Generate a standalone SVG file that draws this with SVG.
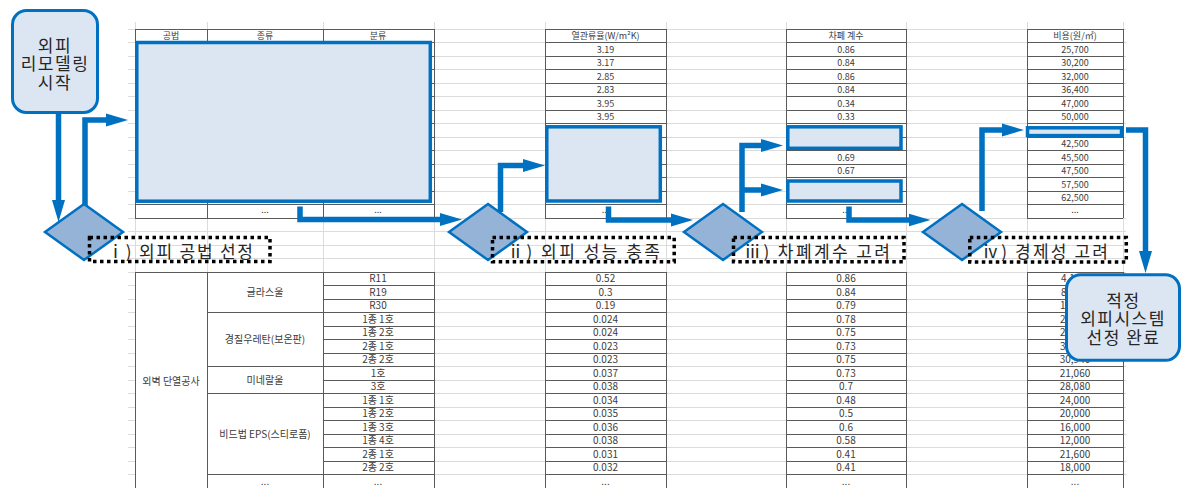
<svg xmlns="http://www.w3.org/2000/svg" width="1183" height="488" viewBox="0 0 1183 488">
  <style>
    .grid{stroke:#dcdcdc;stroke-width:1;fill:none;shape-rendering:crispEdges}
    .cell{stroke:#5a5a5a;stroke-width:1;fill:none;shape-rendering:crispEdges}
    .bg{fill:#ffffff}
    .t9{font-family:"Noto Sans CJK KR","Noto Sans",sans-serif;font-size:9px;fill:#3c3c3c;text-anchor:middle}
    .t10{font-family:"Noto Sans CJK KR","Noto Sans",sans-serif;font-size:10px;fill:#3c3c3c;text-anchor:middle}
    .frag{text-anchor:start}
    .hl{fill:#dce6f2;stroke:#0070c0;stroke-width:3.5}
    .conn{fill:none;stroke:#0070c0;stroke-width:5.5;stroke-linejoin:miter}
    .dia{fill:#95b3d7;stroke:#0070c0;stroke-width:2.5;stroke-linejoin:miter}
    .lblbox{fill:none;stroke:#000000;stroke-width:3.5;stroke-dasharray:3.5 3.5}
    .lbl{font-family:"Noto Sans CJK KR","Noto Sans",sans-serif;font-size:17px;fill:#262626}
    .term{fill:#dce6f2;stroke:#0070c0;stroke-width:3}
    .termtxt{font-family:"Noto Sans CJK KR","Noto Sans",sans-serif;font-size:17px;fill:#262626;text-anchor:middle;letter-spacing:1.5px}
  </style>
  <defs>
    <marker id="ah" markerUnits="userSpaceOnUse" viewBox="0 0 22 14" markerWidth="22" markerHeight="14" refX="2" refY="7" orient="auto">
      <path d="M0 0.5L22 7L0 13.5z" fill="#0070c0"/>
    </marker>
    <!-- one spreadsheet gridline -->
    <path id="gl" d="M128 0H1126"/>
    <!-- row borders of the upper sheet (all four blocks) -->
    <path id="rowTop" d="M135 0H434M545 0H666M786 0H906M1027 0H1123"/>
    <!-- row borders of the lower sheet (value columns only) -->
    <path id="rowBot" d="M323 0H434M545 0H666M786 0H906M1027 0H1123"/>
  </defs>

  <!-- spreadsheet gridlines -->
  <g id="gridlines" class="grid">
    <use href="#gl" y="29"/><use href="#gl" y="42.5"/><use href="#gl" y="56"/><use href="#gl" y="69.5"/>
    <use href="#gl" y="83"/><use href="#gl" y="96.5"/><use href="#gl" y="110"/><use href="#gl" y="123.5"/>
    <use href="#gl" y="137"/><use href="#gl" y="150.5"/><use href="#gl" y="164"/><use href="#gl" y="177.5"/>
    <use href="#gl" y="191"/><use href="#gl" y="204.5"/><use href="#gl" y="218"/><use href="#gl" y="231.5"/>
    <use href="#gl" y="245"/><use href="#gl" y="258.5"/><use href="#gl" y="272"/><use href="#gl" y="285.5"/>
    <use href="#gl" y="299"/><use href="#gl" y="312.5"/><use href="#gl" y="326"/><use href="#gl" y="339.5"/>
    <use href="#gl" y="353"/><use href="#gl" y="366.5"/><use href="#gl" y="380"/><use href="#gl" y="393.5"/>
    <use href="#gl" y="407"/><use href="#gl" y="420.5"/><use href="#gl" y="434"/><use href="#gl" y="447.5"/>
    <use href="#gl" y="461"/><use href="#gl" y="474.5"/>
    <path d="M135 22V488M207 22V488M323 22V488M434 22V488M545 22V488M666 22V488M786 22V488M906 22V488M1027 22V488M1123 22V488"/>
  </g>

  <!-- upper sheet: method list and performance columns -->
  <g id="sheet-top">
    <rect class="bg" x="135" y="29" width="299" height="189"/>
    <rect class="bg" x="545" y="29" width="121" height="189"/>
    <rect class="bg" x="786" y="29" width="120" height="189"/>
    <rect class="bg" x="1027" y="29" width="96" height="189"/>
    <g class="cell">
      <use href="#rowTop" y="29"/><use href="#rowTop" y="42.5"/><use href="#rowTop" y="56"/><use href="#rowTop" y="69.5"/>
      <use href="#rowTop" y="83"/><use href="#rowTop" y="96.5"/><use href="#rowTop" y="110"/><use href="#rowTop" y="123.5"/>
      <use href="#rowTop" y="137"/><use href="#rowTop" y="150.5"/><use href="#rowTop" y="164"/><use href="#rowTop" y="177.5"/>
      <use href="#rowTop" y="191"/><use href="#rowTop" y="204.5"/><use href="#rowTop" y="218"/>
      <path d="M135 29V218M207 29V218M323 29V218M434 29V218M545 29V218M666 29V218M786 29V218M906 29V218M1027 29V218M1123 29V218"/>
    </g>
    <g class="t9">
      <text x="171" y="39">공법</text>
      <text x="265" y="39">종류</text>
      <text x="378" y="39">분류</text>
      <text x="265" y="213">...</text>
      <text x="378" y="213">...</text>

      <text x="605.5" y="39">열관류율(W/m²K)</text>
      <text x="605.5" y="52.5">3.19</text>
      <text x="605.5" y="66">3.17</text>
      <text x="605.5" y="79.5">2.85</text>
      <text x="605.5" y="93">2.83</text>
      <text x="605.5" y="106.5">3.95</text>
      <text x="605.5" y="120">3.95</text>
      <text x="605.5" y="213">...</text>

      <text x="846" y="39">차폐 계수</text>
      <text x="846" y="52.5">0.86</text>
      <text x="846" y="66">0.84</text>
      <text x="846" y="79.5">0.86</text>
      <text x="846" y="93">0.84</text>
      <text x="846" y="106.5">0.34</text>
      <text x="846" y="120">0.33</text>
      <text x="846" y="160.5">0.69</text>
      <text x="846" y="174">0.67</text>
      <text x="846" y="213">...</text>

      <text x="1075" y="39">비용(원/㎡)</text>
      <text x="1075" y="52.5">25,700</text>
      <text x="1075" y="66">30,200</text>
      <text x="1075" y="79.5">32,000</text>
      <text x="1075" y="93">36,400</text>
      <text x="1075" y="106.5">47,000</text>
      <text x="1075" y="120">50,000</text>
      <text x="1075" y="147">42,500</text>
      <text x="1075" y="160.5">45,500</text>
      <text x="1075" y="174">47,500</text>
      <text x="1075" y="187.5">57,500</text>
      <text x="1075" y="201">62,500</text>
      <text x="1075" y="213">...</text>
    </g>
  </g>

  <!-- lower sheet: insulation materials -->
  <g id="sheet-bottom">
    <rect class="bg" x="135" y="272" width="299" height="216"/>
    <rect class="bg" x="545" y="272" width="121" height="216"/>
    <rect class="bg" x="786" y="272" width="120" height="216"/>
    <rect class="bg" x="1027" y="272" width="96" height="216"/>
    <g class="cell">
      <use href="#rowBot" y="272"/><use href="#rowBot" y="285.5"/><use href="#rowBot" y="299"/><use href="#rowBot" y="312.5"/>
      <use href="#rowBot" y="326"/><use href="#rowBot" y="339.5"/><use href="#rowBot" y="353"/><use href="#rowBot" y="366.5"/>
      <use href="#rowBot" y="380"/><use href="#rowBot" y="393.5"/><use href="#rowBot" y="407"/><use href="#rowBot" y="420.5"/>
      <use href="#rowBot" y="434"/><use href="#rowBot" y="447.5"/><use href="#rowBot" y="461"/><use href="#rowBot" y="474.5"/>
      <path d="M135 272H323M207 312.5H323M207 366.5H323M207 393.5H323M207 474.5H323"/>
      <path d="M135 272V488M207 272V488M323 272V488M434 272V488M545 272V488M666 272V488M786 272V488M906 272V488M1027 272V488M1123 272V488"/>
    </g>
    <g class="t10">
      <text x="171" y="385">외벽 단열공사</text>
      <text x="265" y="296">글라스울</text>
      <text x="265" y="343">경질우레탄(보온판)</text>
      <text x="265" y="383.5">미네랄울</text>
      <text x="265" y="437.5">비드법 EPS(스티로폼)</text>
      <text x="265" y="484.5">...</text>

      <text x="378" y="282.3">R11</text>
      <text x="378" y="295.8">R19</text>
      <text x="378" y="309.3">R30</text>
      <text x="378" y="322.8">1종 1호</text>
      <text x="378" y="336.3">1종 2호</text>
      <text x="378" y="349.8">2종 1호</text>
      <text x="378" y="363.3">2종 2호</text>
      <text x="378" y="376.8">1호</text>
      <text x="378" y="390.3">3호</text>
      <text x="378" y="403.8">1종 1호</text>
      <text x="378" y="417.3">1종 2호</text>
      <text x="378" y="430.8">1종 3호</text>
      <text x="378" y="444.3">1종 4호</text>
      <text x="378" y="457.8">2종 1호</text>
      <text x="378" y="471.3">2종 2호</text>
      <text x="378" y="484.8">...</text>

      <text x="605.5" y="282.3">0.52</text>
      <text x="605.5" y="295.8">0.3</text>
      <text x="605.5" y="309.3">0.19</text>
      <text x="605.5" y="322.8">0.024</text>
      <text x="605.5" y="336.3">0.024</text>
      <text x="605.5" y="349.8">0.023</text>
      <text x="605.5" y="363.3">0.023</text>
      <text x="605.5" y="376.8">0.037</text>
      <text x="605.5" y="390.3">0.038</text>
      <text x="605.5" y="403.8">0.034</text>
      <text x="605.5" y="417.3">0.035</text>
      <text x="605.5" y="430.8">0.036</text>
      <text x="605.5" y="444.3">0.038</text>
      <text x="605.5" y="457.8">0.031</text>
      <text x="605.5" y="471.3">0.032</text>
      <text x="605.5" y="484.8">...</text>

      <text x="846" y="282.3">0.86</text>
      <text x="846" y="295.8">0.84</text>
      <text x="846" y="309.3">0.79</text>
      <text x="846" y="322.8">0.78</text>
      <text x="846" y="336.3">0.75</text>
      <text x="846" y="349.8">0.73</text>
      <text x="846" y="363.3">0.75</text>
      <text x="846" y="376.8">0.73</text>
      <text x="846" y="390.3">0.7</text>
      <text x="846" y="403.8">0.48</text>
      <text x="846" y="417.3">0.5</text>
      <text x="846" y="430.8">0.6</text>
      <text x="846" y="444.3">0.58</text>
      <text x="846" y="457.8">0.41</text>
      <text x="846" y="471.3">0.41</text>
      <text x="846" y="484.8">...</text>

      <text class="frag" x="1061" y="282.3">4,1</text>
      <text class="frag" x="1061" y="295.8">8</text>
      <text class="frag" x="1060" y="309.3">1</text>
      <text class="frag" x="1060" y="322.8">2</text>
      <text class="frag" x="1060" y="336.3">2</text>
      <text class="frag" x="1060" y="349.8">3</text>
      <text x="1075" y="363.3">30,940</text>
      <text x="1075" y="376.8">21,060</text>
      <text x="1075" y="390.3">28,080</text>
      <text x="1075" y="403.8">24,000</text>
      <text x="1075" y="417.3">20,000</text>
      <text x="1075" y="430.8">16,000</text>
      <text x="1075" y="444.3">12,000</text>
      <text x="1075" y="457.8">21,600</text>
      <text x="1075" y="471.3">18,000</text>
      <text x="1075" y="484.8">...</text>
    </g>
  </g>

  <!-- highlighted selections -->
  <g id="sel-methods"><rect class="hl" x="136.8" y="42.5" width="293.5" height="158.7"/></g>
  <g id="sel-uvalue"><rect class="hl" x="546.8" y="126.8" width="113.5" height="74.2"/></g>
  <g id="sel-shade-a"><rect class="hl" x="787.8" y="126.8" width="113.2" height="21.5"/></g>
  <g id="sel-shade-b"><rect class="hl" x="787.8" y="181" width="113.2" height="20"/></g>
  <g id="sel-cost"><rect class="hl" x="1027.5" y="127.8" width="94" height="7.8"/></g>

  <!-- connectors -->
  <g id="connectors" class="conn" marker-end="url(#ah)">
    <path d="M58.5 114V202"/>
    <path d="M85 206V120H108"/>
    <path d="M300 206.5V219.5H442"/>
    <path d="M500.5 212V165.5H525"/>
    <path d="M608.5 206.5V220H673"/>
    <path d="M742 212V145.5H763"/>
    <path d="M742 190H763"/>
    <path d="M849 206.5V220H910.5"/>
    <path d="M982 211V130H1004"/>
    <path d="M1126 130H1145.5V253"/>
  </g>

  <!-- decision steps -->
  <g id="step1">
    <polygon class="dia" points="84,204 123,232 84,260 45,232"/>
    <rect class="lblbox" x="89.5" y="237.5" width="180.5" height="24"/>
    <text class="lbl" x="107" y="257.5" textLength="146" lengthAdjust="spacing">ⅰ) 외피 공법 선정</text>
  </g>
  <g id="step2">
    <polygon class="dia" points="488,204 527,232 488,260 449,232"/>
    <rect class="lblbox" x="492.5" y="237.5" width="181.7" height="24.3"/>
    <text class="lbl" x="507" y="257.5" textLength="153" lengthAdjust="spacing">ⅱ) 외피 성능 충족</text>
  </g>
  <g id="step3">
    <polygon class="dia" points="723,204 762,232 723,260 684,232"/>
    <rect class="lblbox" x="733.5" y="237.5" width="170.5" height="24.3"/>
    <text class="lbl" x="744" y="257.5" textLength="146" lengthAdjust="spacing">ⅲ) 차폐계수 고려</text>
  </g>
  <g id="step4">
    <polygon class="dia" points="962,204 1001,232 962,260 923,232"/>
    <rect class="lblbox" x="969.8" y="237.5" width="156.5" height="24.5"/>
    <text class="lbl" x="982" y="257.5" textLength="126" lengthAdjust="spacing">ⅳ) 경제성 고려</text>
  </g>

  <!-- start and end terminals -->
  <g id="start">
    <rect class="term" x="12.5" y="10.5" width="85" height="102" rx="14"/>
    <text class="termtxt"><tspan x="55" y="51.5">외피</tspan><tspan x="55" y="70">리모델링</tspan><tspan x="55" y="88.5">시작</tspan></text>
  </g>
  <g id="end">
    <rect class="term" x="1066.5" y="274.8" width="113" height="85.5" rx="14"/>
    <text class="termtxt"><tspan x="1123.5" y="306.5">적정</tspan><tspan x="1123" y="325">외피시스템</tspan><tspan x="1123.5" y="343.5">선정 완료</tspan></text>
  </g>
</svg>
